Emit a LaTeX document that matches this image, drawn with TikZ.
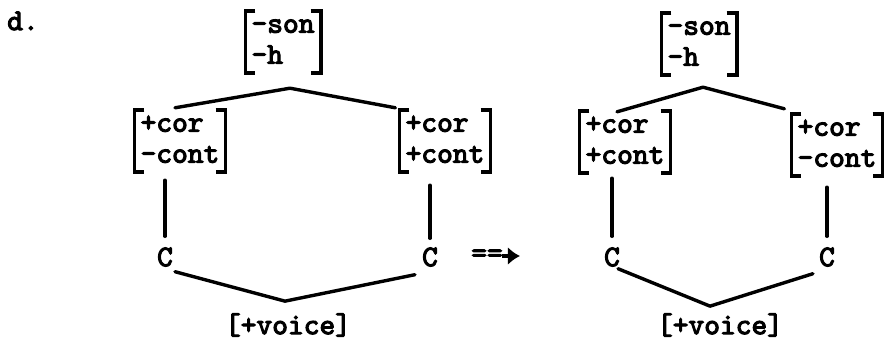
\documentclass[tikz,border=0pt]{standalone}
\usepackage{fontspec}
\newfontfamily\twfont[FakeBold=3.5]{lmmono10-regular.otf}
\usetikzlibrary{calc,arrows.meta}
\newcommand\fbrack[1]{%
  \draw[brkline] ([xshift=10pt]#1.north west) -- (#1.north west) -- (#1.south west) -- ([xshift=10pt]#1.south west);
  \draw[brkline] ([xshift=-10pt]#1.north east) -- (#1.north east) -- (#1.south east) -- ([xshift=-10pt]#1.south east);}
\begin{document}
\begin{tikzpicture}[x=1pt,y=-1pt,
  tw/.style={font=\twfont\fontsize{30}{31}\selectfont},
  mat/.style={tw, align=left, inner xsep=6pt, inner ysep=0pt, minimum height=62pt},
  mat4/.style={mat, text width=63pt},
  mat5/.style={mat, text width=78.8pt},
  seg/.style={tw, inner sep=2pt},
  brkline/.style={line width=3.6pt, line cap=butt, line join=miter},
  ln/.style={line width=3.4pt, line cap=round, line join=round}]
\useasboundingbox (0,0) rectangle (890,343);

\node[seg] (lab) at (23,21) {d.};

% left figure
\node[mat4] (TL) at (283,42) {\strut-son\\\strut-h};
\node[mat5] (ML) at (180,141) {\strut+cor\\\strut-cont};
\node[mat5] (MR) at (445,141) {\strut+cor\\\strut+cont};
\node[seg] (C1) at (165,257) {C};
\node[seg] (C2) at (430,257) {C};
\node[seg] (V1) at (288,325) {[+voice]};
\fbrack{TL}\fbrack{ML}\fbrack{MR}

\draw[ln] ($(ML.north)+(-5,-2)$) -- ($(TL.south)+(7,15)$) -- ($(MR.north west)+(-4,-2)$);
\draw[ln, shorten <=8pt, shorten >=9pt] (C1 |- ML.south) -- (C1.north);
\draw[ln, shorten <=13pt, shorten >=7pt] (C2 |- MR.south) -- (C2.north);
\draw[ln] ($(C1.south)+(10,3)$) -- ($(V1.north)+(-3,-10)$) -- ($(C2.south west)+(-5,6)$);

% arrow
\node[seg] (arr) at (487,256) {==};
\draw[line width=4pt, -{Latex[length=12pt,width=18pt]}] ([xshift=-3pt]arr.east) -- ++(18,0);

% right figure
\node[mat4] (RT) at (699,44) {\strut-son\\\strut-h};
\node[mat5] (RML) at (625,142) {\strut+cor\\\strut+cont};
\node[mat5] (RMR) at (837,145) {\strut+cor\\\strut-cont};
\node[seg] (RC1) at (612,257) {C};
\node[seg] (RC2) at (827,257) {C};
\node[seg] (V2) at (720,325) {[+voice]};
\fbrack{RT}\fbrack{RML}\fbrack{RMR}

\draw[ln] ($(RML.north)+(-8,1)$) -- ($(RT.south)+(4,12)$) -- ($(RMR.north west)+(-7,-5)$);
\draw[ln, shorten <=5pt, shorten >=9pt] (RC1 |- RML.south) -- (RC1.north);
\draw[ln, shorten <=11pt, shorten >=9pt] (RC2 |- RMR.south) -- (RC2.north);
\draw[ln] ($(RC1.south)+(6,0)$) -- ($(V2.north)+(-10,-5)$) -- ($(RC2.south west)+(-4,5)$);
\end{tikzpicture}
\end{document}
